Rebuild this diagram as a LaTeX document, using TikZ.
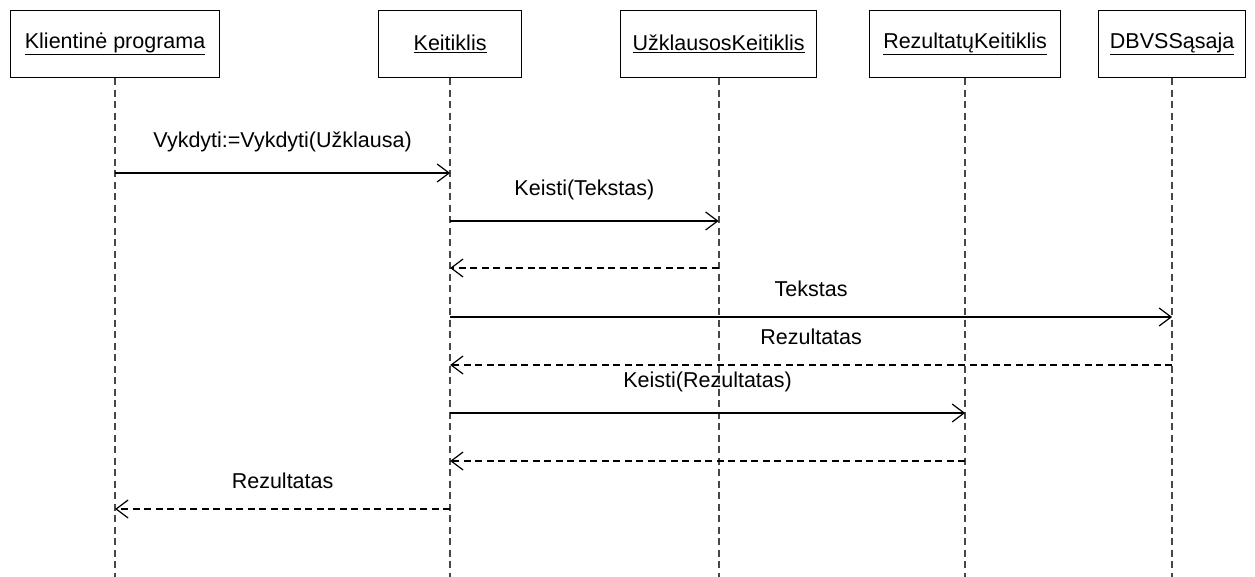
\documentclass[tikz,border=0pt]{standalone}
\usepackage{fontspec}
\setmainfont{Liberation Sans}
\usetikzlibrary{arrows.meta}
\begin{document}
\begin{tikzpicture}[x=1pt,y=-1pt,
  font=\fontsize{21.5}{25}\selectfont,
  obj/.style={draw, line width=1.2pt, minimum height=67pt, inner sep=0pt, anchor=north west},
  lifeline/.style={draw=black!72, line width=1.8pt, dash pattern=on 7pt off 4.5pt},
  call/.style={line width=1.2pt, -{Straight Barb[length=12pt,width=18pt,line width=1.2pt]}},
  reply/.style={call, dash pattern=on 7pt off 4.5pt},
  msglabel/.style={midway, above, inner sep=0pt, yshift=20pt}]
\useasboundingbox (0,0) rectangle (1255,576);

% participants
\node[obj, minimum width=209pt] (client) at (10,10) {\underline{Klientinė programa}};
\node[obj, minimum width=143pt] (conv) at (378,10) {\underline{Keitiklis}};
\node[obj, minimum width=196pt] (query) at (620,10) {\underline{UžklausosKeitiklis}};
\node[obj, minimum width=191pt] (result) at (869,10) {\underline{RezultatųKeitiklis}};
\node[obj, minimum width=147pt] (dbms) at (1098,10) {\underline{DBVSSąsaja}};

% lifeline ends
\coordinate (clientEnd) at (client.south |- 0,578);
\coordinate (convEnd) at (conv.south |- 0,578);
\coordinate (queryEnd) at (query.south |- 0,578);
\coordinate (resultEnd) at (result.south |- 0,578);
\coordinate (dbmsEnd) at (dbms.south |- 0,578);

\foreach \p in {client,conv,query,result,dbms}
  \draw[lifeline] (\p.south) -- (\p End);

% messages
\draw[call] (client.south |- 0,173) -- node[msglabel] {Vykdyti:=Vykdyti(Užklausa)} (conv.south |- 0,173);
\draw[call] (conv.south |- 0,221) -- node[msglabel] {Keisti(Tekstas)} (query.south |- 0,221);
\draw[reply] (query.south |- 0,268) -- (conv.south |- 0,268);
\draw[call] (conv.south |- 0,317) -- node[msglabel] {Tekstas} (dbms.south |- 0,317);
\draw[reply] (dbms.south |- 0,365) -- node[msglabel] {Rezultatas} (conv.south |- 0,365);
\draw[call] (conv.south |- 0,413) -- node[msglabel] {Keisti(Rezultatas)} (result.south |- 0,413);
\draw[reply] (result.south |- 0,461) -- (conv.south |- 0,461);
\draw[reply] (conv.south |- 0,509) -- node[msglabel] {Rezultatas} (client.south |- 0,509);
\end{tikzpicture}
\end{document}
